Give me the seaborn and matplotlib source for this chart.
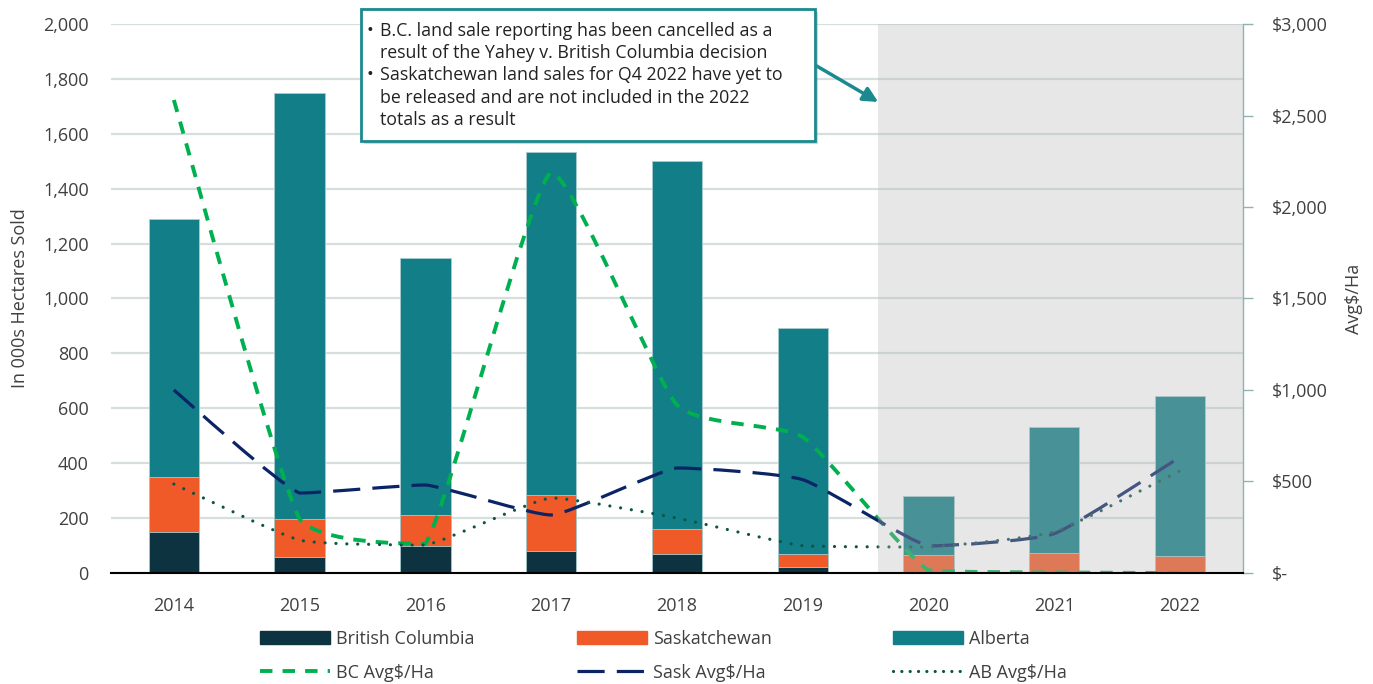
import matplotlib
matplotlib.use('Agg')
import matplotlib.pyplot as plt
import matplotlib.patches as mpatches
from matplotlib.path import Path
from matplotlib.lines import Line2D
import numpy as np
import pandas as pd
import seaborn as sns

# Data
years = ['2014', '2015', '2016', '2017', '2018', '2019', '2020', '2021', '2022']
bc_ha = [150, 60, 100, 80, 70, 20, 0, 0, 0]
sask_ha = [200, 135, 110, 205, 92, 50, 65, 72, 62]
ab_ha = [940, 1555, 938, 1250, 1338, 823, 217, 459, 584]
bc_price = [2585, 295, 160, 2190, 918, 743, 15, 3, 0]
sask_price = [1000, 437, 481, 317, 574, 510, 148, 215, 634]
ab_price = [486, 180, 153, 410, 300, 149, 142, 225, 559]
left_ticks = [0, 200, 400, 600, 800, 1000, 1200, 1400, 1600, 1800, 2000]
right_ticks = [0, 500, 1000, 1500, 2000, 2500, 3000]
right_labels = ['$-', '$500', '$1,000', '$1,500', '$2,000', '$2,500', '$3,000']
note_lines = [
    ('•', 'B.C. land sale reporting has been cancelled as a'),
    ('', 'result of the Yahey v. British Columbia decision'),
    ('•', 'Saskatchewan land sales for Q4 2022 have yet to'),
    ('', 'be released and are not included in the 2022'),
    ('', 'totals as a result'),
]

BC_COL = '#0d3341'
SASK_COL = '#f05a28'
AB_COL = '#127e87'
BC_LINE = '#00b050'
SASK_LINE = '#0b2466'
AB_LINE = '#0a5545'
TEAL = '#1b8a8f'
TXT = '#404040'

sns.set_style('white')
plt.rcParams['font.family'] = ['Open Sans', 'DejaVu Sans']

df = pd.DataFrame({'year': years, 'bc': bc_ha, 'sask': sask_ha, 'ab': ab_ha})
df['bc_sask'] = df['bc'] + df['sask']
df['total'] = df['bc_sask'] + df['ab']

fig = plt.figure(figsize=(13.73, 6.84), dpi=100)
ax = fig.add_axes([0.0808, 0.1623, 0.8245, 0.8026])

# stacked bars, drawn as cumulative totals
for col, color in [('total', AB_COL), ('bc_sask', SASK_COL), ('bc', BC_COL)]:
    sns.barplot(data=df, x='year', y=col, color=color, width=0.4, ax=ax,
                edgecolor='#a9cccf', linewidth=0.6, saturation=1, zorder=2)

ax.set_xlim(-0.5, 8.5)
ax.set_ylim(0, 2000)
ax.set_yticks(left_ticks)
ax.set_yticklabels([f'{v:,}' for v in left_ticks])
ax.grid(axis='y', color='#d6dede', lw=1.6, zorder=0)
ax.set_axisbelow(True)
for s in ax.spines.values():
    s.set_visible(False)
ax.tick_params(axis='y', length=0, pad=16, labelsize=13, labelcolor=TXT)
ax.tick_params(axis='x', which='major', length=0, pad=17, labelsize=13, labelcolor=TXT)
ax.set_xticks(np.arange(-0.5, 9, 1), minor=True)
ax.tick_params(axis='x', which='minor', length=7, width=1.5, color='black', direction='out')
ax.set_xlabel('')
ax.set_ylabel('In 000s Hectares Sold', fontsize=13, color=TXT, labelpad=10)

# price lines on the secondary axis
ax2 = ax.twinx()
ax2.set_ylim(0, 3000)
ax2.set_xlim(-0.5, 8.5)


def smooth_path(xs, ys, k=0.08):
    # lightly rounded line through the points (bezier corners, no overshoot)
    pts = np.column_stack([xs, ys]).astype(float)
    n = len(pts)
    verts = [pts[0]]
    codes = [Path.MOVETO]
    for i in range(n - 1):
        p0 = pts[i - 1] if i > 0 else pts[i]
        p1 = pts[i]
        p2 = pts[i + 1]
        p3 = pts[i + 2] if i + 2 < n else pts[i + 1]
        c1 = p1 + k * (p2 - p0)
        c2 = p2 - k * (p3 - p1)
        lo, hi = min(p1[1], p2[1]), max(p1[1], p2[1])
        c1[1] = np.clip(c1[1], lo, hi)
        c2[1] = np.clip(c2[1], lo, hi)
        verts += [c1, c2, p2]
        codes += [Path.CURVE4] * 3
    return Path(verts, codes)


x_pos = np.arange(len(years))
line_styles = [
    (bc_price, BC_LINE, 2.8, (0, (3.2, 2.6)), 'butt'),
    (sask_price, SASK_LINE, 2.3, (0, (8.5, 3.8)), 'butt'),
    (ab_price, AB_LINE, 2.3, (0, (0.01, 3.4)), 'round'),
]
for vals, color, lw, ls, cap in line_styles:
    patch = mpatches.PathPatch(smooth_path(x_pos, vals), facecolor='none',
                               edgecolor=color, lw=lw, linestyle=ls,
                               capstyle=cap, zorder=2)
    ax2.add_patch(patch)

# shaded region
ax2.add_patch(mpatches.Rectangle((5.6, 0), 2.9, 3000, facecolor='#b9b9b9',
                                 alpha=0.33, lw=0, zorder=2.2))

ax2.set_yticks(right_ticks)
ax2.set_yticklabels(right_labels)
ax2.tick_params(axis='y', length=7, width=1, color='#8fb3b3', pad=14,
                labelsize=13, labelcolor=TXT)
for s in ['left', 'top']:
    ax2.spines[s].set_visible(False)
ax2.spines['right'].set_color('#8fb3b3')
ax2.spines['right'].set_linewidth(1)
ax2.spines['bottom'].set_color('black')
ax2.spines['bottom'].set_linewidth(1.5)
ax2.set_ylabel('Avg$/Ha', fontsize=13, color=TXT, labelpad=12)

# note box
bx0, by0, bx1, by1 = 361, 9, 815, 141
W, H = 1373, 684
fig.patches.append(mpatches.Rectangle((bx0 / W + 3 / W, 1 - by1 / H - 3 / H),
                                      (bx1 - bx0) / W, (by1 - by0) / H,
                                      transform=fig.transFigure, facecolor='#888888',
                                      alpha=0.35, lw=0, zorder=5))
fig.patches.append(mpatches.Rectangle((bx0 / W, 1 - by1 / H), (bx1 - bx0) / W,
                                      (by1 - by0) / H, transform=fig.transFigure,
                                      facecolor='white', edgecolor=TEAL, lw=2,
                                      zorder=6))
for i, (bullet, line) in enumerate(note_lines):
    yy = 1 - (31 + i * 22.2) / H
    if bullet:
        fig.text(367 / W, yy, bullet, fontsize=13, color='#222222',
                 va='center', ha='left', zorder=7)
    fig.text(380 / W, yy, line, fontsize=12.8, color='#222222',
             va='center', ha='left', zorder=7)

ax2.annotate('', xy=(5.6, 2574), xycoords='data',
             xytext=(815 / W, 1 - 65 / H), textcoords='figure fraction',
             arrowprops=dict(arrowstyle='-|>', color=TEAL, lw=2.5,
                             mutation_scale=22, shrinkA=0, shrinkB=0),
             zorder=4)

# legend: three columns
legend_cols = [
    (260, mpatches.Patch(color=BC_COL), 'British Columbia',
     Line2D([], [], color=BC_LINE, lw=2.8, ls=(0, (3.2, 2.6))), 'BC Avg$/Ha'),
    (577, mpatches.Patch(color=SASK_COL), 'Saskatchewan',
     Line2D([], [], color=SASK_LINE, lw=2.3, ls=(0, (8.5, 3.8))), 'Sask Avg$/Ha'),
    (893, mpatches.Patch(color=AB_COL), 'Alberta',
     Line2D([], [], color=AB_LINE, lw=2.3, ls=(0, (0.01, 2.6)),
            dash_capstyle='round'), 'AB Avg$/Ha'),
]
for x0, h1, l1, h2, l2 in legend_cols:
    leg = fig.legend([h1, h2], [l1, l2], loc='upper left',
                     bbox_to_anchor=(x0 / W, 1 - 630 / H), frameon=False,
                     fontsize=13, handlelength=3.9, handleheight=0.75,
                     handletextpad=0.3, labelspacing=0.88, borderpad=0,
                     borderaxespad=0)
    for t in leg.get_texts():
        t.set_color(TXT)

fig.savefig('out.png', dpi=100)
